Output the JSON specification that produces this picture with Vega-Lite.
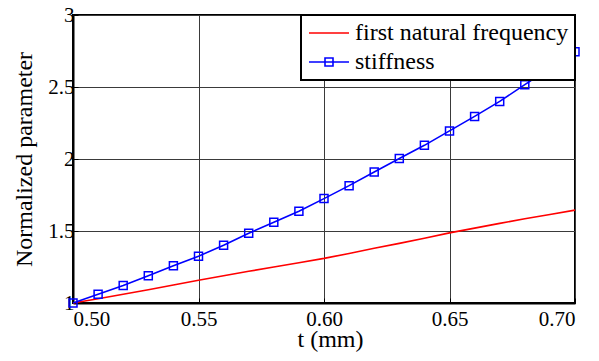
{
  "$schema": "https://vega.github.io/schema/vega-lite/v6.json",
  "autosize": {"type": "none"},
  "width": 502,
  "height": 288,
  "padding": {"left": 73, "top": 15, "right": 24, "bottom": 58},
  "background": "white",
  "config": {
    "font": "Liberation Serif",
    "view": {"stroke": "black", "strokeWidth": 2},
    "style": {
      "guide-label": {"font": "Liberation Serif", "fill": "black"},
      "guide-title": {"font": "Liberation Serif", "fill": "black"}
    },
    "legend": {"labelFont": "Liberation Serif"},
    "axis": {
      "labelFont": "Liberation Serif",
      "labelFontSize": 21,
      "labelColor": "black",
      "titleFont": "Liberation Serif",
      "titleFontSize": 24,
      "titleFontWeight": "normal",
      "titleColor": "black",
      "domainColor": "black",
      "domainWidth": 2,
      "tickColor": "black",
      "tickSize": -5,
      "tickWidth": 1,
      "gridColor": "#3a3a3a",
      "gridWidth": 1,
      "gridOpacity": 1
    }
  },
  "data": {
    "values": [
      {"t": 0.50, "series": "first natural frequency", "value": 1.000},
      {"t": 0.51, "series": "first natural frequency", "value": 1.030},
      {"t": 0.52, "series": "first natural frequency", "value": 1.061},
      {"t": 0.53, "series": "first natural frequency", "value": 1.092},
      {"t": 0.54, "series": "first natural frequency", "value": 1.125},
      {"t": 0.55, "series": "first natural frequency", "value": 1.158},
      {"t": 0.56, "series": "first natural frequency", "value": 1.189},
      {"t": 0.57, "series": "first natural frequency", "value": 1.220},
      {"t": 0.58, "series": "first natural frequency", "value": 1.250},
      {"t": 0.59, "series": "first natural frequency", "value": 1.280},
      {"t": 0.60, "series": "first natural frequency", "value": 1.310},
      {"t": 0.61, "series": "first natural frequency", "value": 1.344},
      {"t": 0.62, "series": "first natural frequency", "value": 1.380},
      {"t": 0.63, "series": "first natural frequency", "value": 1.414},
      {"t": 0.64, "series": "first natural frequency", "value": 1.450},
      {"t": 0.65, "series": "first natural frequency", "value": 1.487},
      {"t": 0.66, "series": "first natural frequency", "value": 1.520},
      {"t": 0.67, "series": "first natural frequency", "value": 1.553},
      {"t": 0.68, "series": "first natural frequency", "value": 1.585},
      {"t": 0.69, "series": "first natural frequency", "value": 1.615},
      {"t": 0.70, "series": "first natural frequency", "value": 1.645},
      {"t": 0.50, "series": "stiffness", "value": 1.000},
      {"t": 0.51, "series": "stiffness", "value": 1.060},
      {"t": 0.52, "series": "stiffness", "value": 1.121},
      {"t": 0.53, "series": "stiffness", "value": 1.189},
      {"t": 0.54, "series": "stiffness", "value": 1.258},
      {"t": 0.55, "series": "stiffness", "value": 1.325},
      {"t": 0.56, "series": "stiffness", "value": 1.401},
      {"t": 0.57, "series": "stiffness", "value": 1.484},
      {"t": 0.58, "series": "stiffness", "value": 1.561},
      {"t": 0.59, "series": "stiffness", "value": 1.637},
      {"t": 0.60, "series": "stiffness", "value": 1.725},
      {"t": 0.61, "series": "stiffness", "value": 1.815},
      {"t": 0.62, "series": "stiffness", "value": 1.910},
      {"t": 0.63, "series": "stiffness", "value": 2.003},
      {"t": 0.64, "series": "stiffness", "value": 2.095},
      {"t": 0.65, "series": "stiffness", "value": 2.195},
      {"t": 0.66, "series": "stiffness", "value": 2.296},
      {"t": 0.67, "series": "stiffness", "value": 2.400},
      {"t": 0.68, "series": "stiffness", "value": 2.516},
      {"t": 0.69, "series": "stiffness", "value": 2.630},
      {"t": 0.70, "series": "stiffness", "value": 2.745}
    ]
  },
  "encoding": {
    "x": {
      "field": "t",
      "type": "quantitative",
      "scale": {"domain": [0.5, 0.7], "nice": false, "zero": false},
      "axis": {
        "values": [0.5, 0.55, 0.6, 0.65, 0.7],
        "format": ".2f",
        "labelFont": "Liberation Serif",
        "labelPadding": 10,
        "title": "t  (mm)",
        "titlePadding": -2,
        "titleX": 257
      }
    },
    "y": {
      "field": "value",
      "type": "quantitative",
      "scale": {"domain": [1, 3], "nice": false, "zero": false},
      "axis": {
        "values": [1, 1.5, 2, 2.5, 3],
        "format": ".1~f",
        "labelFont": "Liberation Serif",
        "labelPadding": 4,
        "title": "Normalized parameter",
        "titlePadding": 11
      }
    }
  },
  "layer": [
    {
      "mark": {"type": "line", "strokeWidth": 1.6},
      "encoding": {
        "color": {
          "field": "series",
          "type": "nominal",
          "scale": {"domain": ["first natural frequency", "stiffness"], "range": ["#ff0000", "#0000ff"]},
          "legend": {
            "orient": "top-right",
            "offset": 0,
            "title": null,
            "symbolType": "stroke",
            "symbolSize": 400,
            "symbolStrokeWidth": 1.6,
            "labelOffset": 24,
            "labelFont": "Liberation Serif",
            "labelFontSize": 24,
            "labelColor": "black",
            "labelLimit": 400,
            "padding": 6,
            "rowPadding": 5,
            "strokeColor": "black",
            "fillColor": "white",
            "encode": {
              "legend": {"update": {"strokeWidth": {"value": 2}}},
              "labels": {
                "update": {
                  "font": {"value": "Liberation Serif"},
                  "text": {"signal": "datum.label + '\u00a0\u00a0\u00a0'"}
                }
              },
              "symbols": {
                "update": {
                  "shape": {"signal": "datum.value === 'stiffness' ? 'M-1,0H3M0.6,-0.4H1.4V0.4H0.6Z' : 'M-1,0H3'"},
                  "fill": {"value": "transparent"}
                }
              }
            }
          }
        }
      }
    },
    {
      "transform": [{"filter": "datum.series === 'stiffness'"}],
      "mark": {"type": "point", "shape": "square", "size": 64, "filled": false, "color": "#0000ff", "strokeWidth": 1.5, "opacity": 1}
    }
  ]
}
